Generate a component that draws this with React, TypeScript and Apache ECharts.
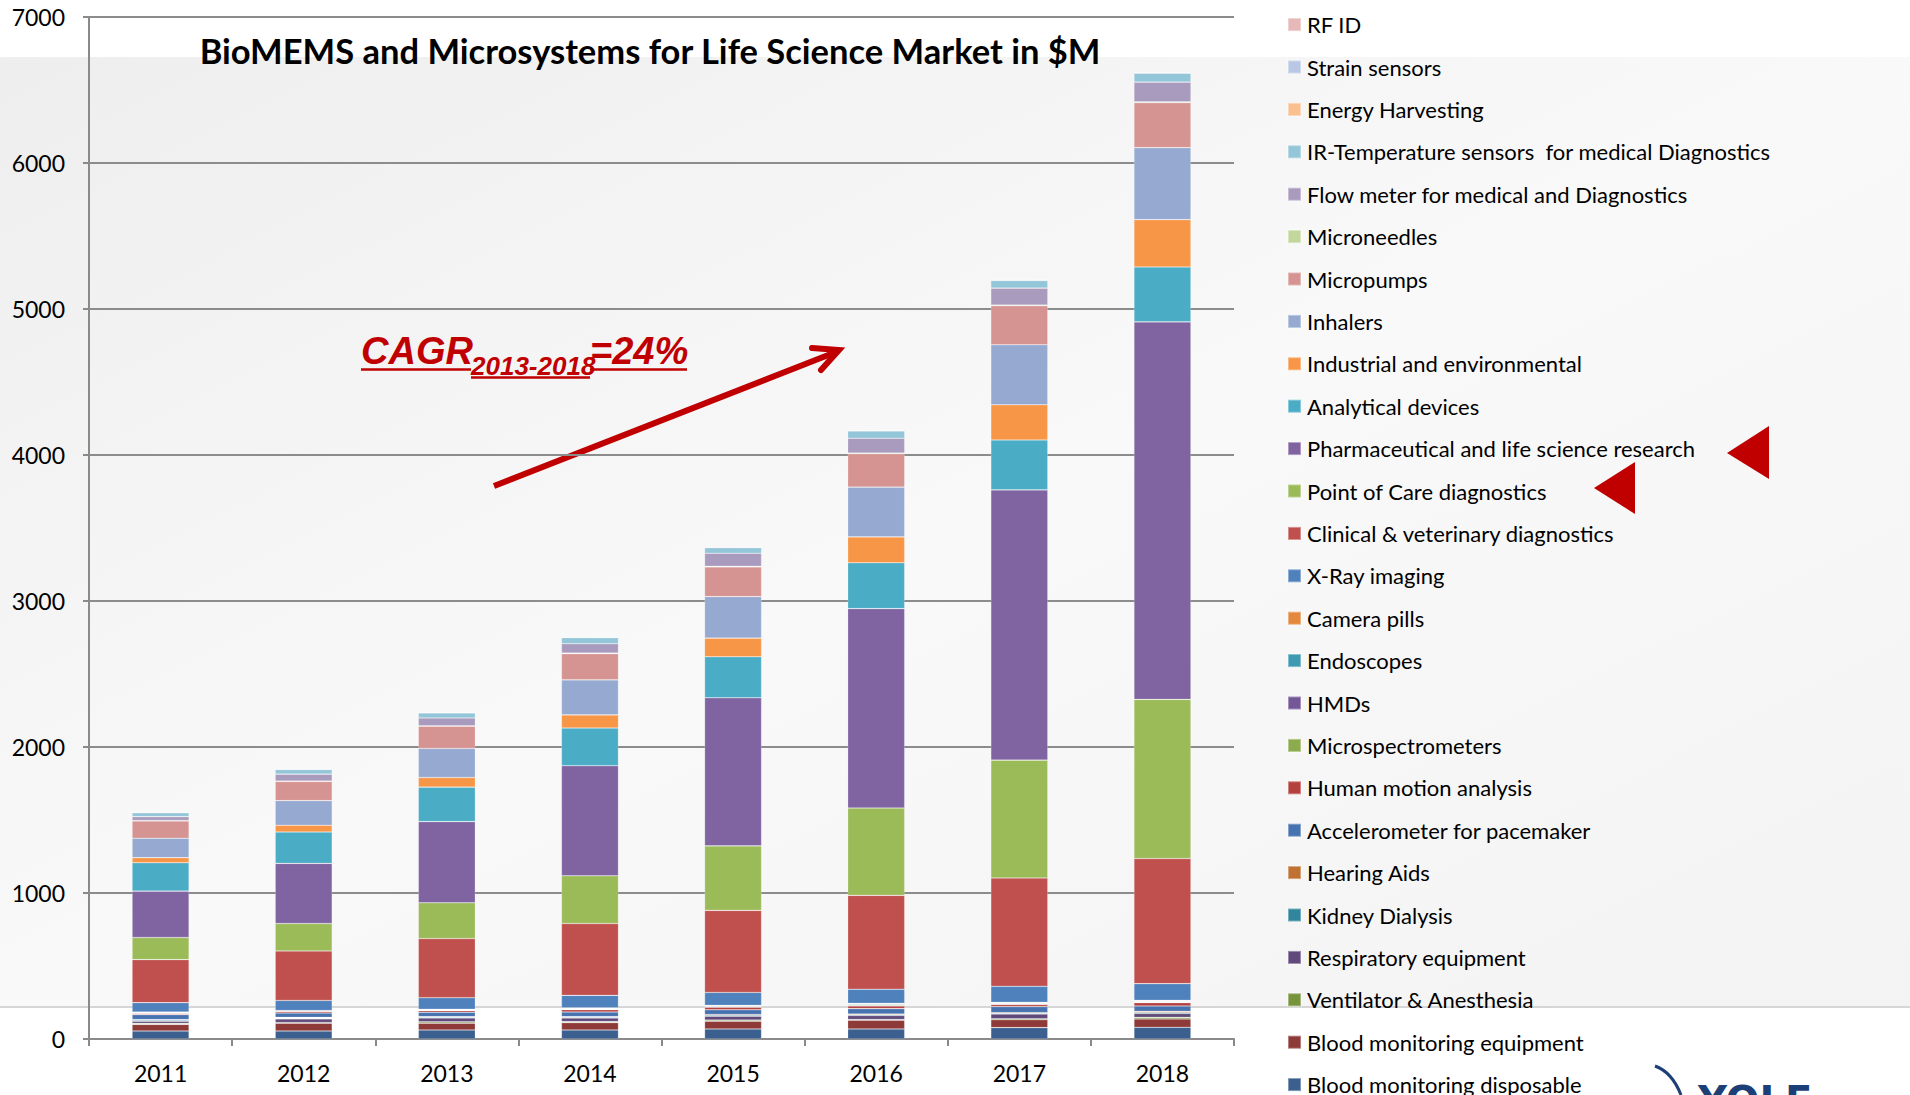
import React, { useEffect, useRef } from 'react';
import * as echarts from 'echarts';

const years = ['2011', '2012', '2013', '2014', '2015', '2016', '2017', '2018'];
const yTicks = [0, 1000, 2000, 3000, 4000, 5000, 6000, 7000];

// bottom of the stack first
const bloodDisposable = [55, 55, 62, 62, 69, 69, 78, 80];
const bloodEquipment = [45, 53, 46, 50, 53, 60, 54, 57];
const ventilator = [7, 5, 9, 7, 7, 5, 7, 11];
const respiratory = [15, 25, 27, 25, 27, 27, 32, 27];
const kidney = [6, 5, 5, 5, 7, 5, 5, 7];
const hearing = [5, 5, 4, 4, 5, 5, 5, 7];
const accelerometer = [34, 30, 30, 32, 32, 37, 41, 37];
const humanMotion = [8, 11, 11, 16, 18, 18, 14, 23];
const microspectrometers = [3, 2, 3, 3, 2, 5, 4, 4];
const hmds = [3, 2, 3, 3, 2, 4, 3, 4];
const endoscopes = [2, 1, 2, 3, 4, 5, 4, 4];
const cameraPills = [2, 1, 2, 3, 4, 4, 4, 4];
const xray = [64, 69, 79, 86, 89, 97, 110, 114];
const clinical = [295, 339, 405, 492, 562, 643, 742, 857];
const pointOfCare = [151, 188, 245, 327, 442, 598, 807, 1090];
const pharma = [318, 412, 556, 754, 1014, 1366, 1851, 2586];
const analytical = [194, 215, 236, 258, 281, 314, 342, 376];
const industrial = [35, 46, 66, 90, 128, 177, 241, 324];
const inhalers = [133, 169, 199, 240, 284, 341, 411, 493];
const micropumps = [119, 131, 152, 179, 204, 229, 267, 308];
const microneedles = [2, 3, 3, 4, 4, 5, 5, 6];
const flowMeter = [27, 47, 54, 64, 89, 101, 116, 135];
const irTemp = [27, 32, 35, 42, 38, 50, 52, 61];
const energyHarvesting = [1, 1, 2, 2, 2, 2, 2, 2];
const strainSensors = [1, 2, 2, 2, 2, 3, 3, 3];
const rfid = [1, 2, 2, 2, 2, 2, 2, 3];

const seriesDefs = [
  { name: 'Blood monitoring disposable', data: bloodDisposable, color: '#3B5F8E' },
  { name: 'Blood monitoring equipment', data: bloodEquipment, color: '#8E3A38' },
  { name: 'Ventilator & Anesthesia', data: ventilator, color: '#77933C' },
  { name: 'Respiratory equipment', data: respiratory, color: '#604A7B' },
  { name: 'Kidney Dialysis', data: kidney, color: '#31859C' },
  { name: 'Hearing Aids', data: hearing, color: '#C07232' },
  { name: 'Accelerometer for pacemaker', data: accelerometer, color: '#4672B0' },
  { name: 'Human motion analysis', data: humanMotion, color: '#B5413F' },
  { name: 'Microspectrometers', data: microspectrometers, color: '#8CAB4C' },
  { name: 'HMDs', data: hmds, color: '#735797' },
  { name: 'Endoscopes', data: endoscopes, color: '#3E9AB1' },
  { name: 'Camera pills', data: cameraPills, color: '#E3883C' },
  { name: 'X-Ray imaging', data: xray, color: '#4F81BD' },
  { name: 'Clinical & veterinary diagnostics', data: clinical, color: '#C0504D' },
  { name: 'Point of Care diagnostics', data: pointOfCare, color: '#9BBB59' },
  { name: 'Pharmaceutical and life science research', data: pharma, color: '#8064A2' },
  { name: 'Analytical devices', data: analytical, color: '#4BACC6' },
  { name: 'Industrial and environmental', data: industrial, color: '#F79646' },
  { name: 'Inhalers', data: inhalers, color: '#95A9D1' },
  { name: 'Micropumps', data: micropumps, color: '#D59391' },
  { name: 'Microneedles', data: microneedles, color: '#C3D69B' },
  { name: 'Flow meter for medical and Diagnostics', data: flowMeter, color: '#A99BBE' },
  { name: 'IR-Temperature sensors  for medical Diagnostics', data: irTemp, color: '#93C6D8' },
  { name: 'Energy Harvesting', data: energyHarvesting, color: '#FAC090' },
  { name: 'Strain sensors', data: strainSensors, color: '#B9C7E4' },
  { name: 'RF ID', data: rfid, color: '#E6B9B8' },
];

const FONT = 'Lato, "Open Sans", sans-serif';
const RED = '#C00000';

export default function App() {
  const ref = useRef<HTMLDivElement>(null);
  useEffect(() => {
    const chart = echarts.init(ref.current as HTMLDivElement, null, { renderer: 'svg' });
    chart.setOption({
      animation: false,
      backgroundColor: '#ffffff',
      grid: { left: 89, top: 17, width: 1145, height: 1022, containLabel: false },
      xAxis: {
        type: 'category',
        data: years,
        axisLine: { lineStyle: { color: '#8a8a8a', width: 2 } },
        axisTick: { show: true, length: 7, lineStyle: { color: '#8a8a8a', width: 2 } },
        axisLabel: { fontFamily: FONT, fontSize: 23, color: '#000', margin: 22 },
      },
      yAxis: {
        type: 'value',
        min: yTicks[0],
        max: yTicks[yTicks.length - 1],
        interval: 1000,
        axisLine: { show: true, lineStyle: { color: '#8a8a8a', width: 2 } },
        axisTick: { show: true, length: 6, lineStyle: { color: '#8a8a8a', width: 2 } },
        axisLabel: {
          fontFamily: FONT,
          fontSize: 23,
          color: '#000',
          margin: 24,
          formatter: (v: number) => String(v),
        },
        splitLine: { lineStyle: { color: '#8c8c8c', width: 2 } },
      },
      legend: {
        orient: 'vertical',
        left: 1287,
        top: 13.6,
        height: 1400,
        padding: 0,
        itemWidth: 13,
        itemHeight: 13,
        itemGap: 20.4,
        icon: 'rect',
        selectedMode: false,
        data: seriesDefs.map((s) => s.name).reverse(),
        textStyle: { fontFamily: FONT, fontSize: 22, lineHeight: 22, color: '#000', padding: [0, 0, 0, 1] },
      },
      series: seriesDefs.map((s) => ({
        name: s.name,
        type: 'bar',
        stack: 'total',
        barWidth: 57,
        data: s.data,
        itemStyle: { color: s.color, borderColor: 'rgba(255,255,255,0.35)', borderWidth: 0.6 },
        emphasis: { disabled: true },
      })),
      graphic: [
        {
          type: 'rect',
          z: -100,
          shape: { x: 0, y: 57, width: 1910, height: 950 },
          style: {
            fill: new echarts.graphic.LinearGradient(0, 0, 1, 1, [
              { offset: 0, color: '#eeeeee' },
              { offset: 0.5, color: '#f9f9f9' },
              { offset: 1, color: '#f3f3f3' },
            ]),
          },
        },
        {
          type: 'line',
          z: -99,
          shape: { x1: 0, y1: 1007, x2: 1910, y2: 1007 },
          style: { stroke: '#d6d6d6', lineWidth: 2 },
        },
        {
          type: 'text',
          x: 650,
          y: 50,
          style: {
            text: 'BioMEMS and Microsystems for Life Science Market in $M',
            font: 'bold 34.5px Lato, sans-serif',
            fill: '#000',
            textAlign: 'center',
            textVerticalAlign: 'middle',
          },
        },
        {
          type: 'text',
          x: 361,
          y: 351,
          style: { text: 'CAGR', font: 'italic bold 38px "Liberation Sans", Arial, sans-serif', fill: RED, textAlign: 'left', textVerticalAlign: 'middle' },
        },
        {
          type: 'text',
          x: 471,
          y: 366,
          style: { text: '2013-2018', font: 'italic bold 26px "Liberation Sans", Arial, sans-serif', fill: RED, textAlign: 'left', textVerticalAlign: 'middle' },
        },
        {
          type: 'text',
          x: 590,
          y: 351,
          style: { text: '=24%', font: 'italic bold 38px "Liberation Sans", Arial, sans-serif', fill: RED, textAlign: 'left', textVerticalAlign: 'middle' },
        },
        { type: 'line', shape: { x1: 361, y1: 369.5, x2: 471, y2: 369.5 }, style: { stroke: RED, lineWidth: 2.5 } },
        { type: 'line', shape: { x1: 471, y1: 377.5, x2: 590, y2: 377.5 }, style: { stroke: RED, lineWidth: 2.5 } },
        { type: 'line', shape: { x1: 590, y1: 369.5, x2: 687, y2: 369.5 }, style: { stroke: RED, lineWidth: 2.5 } },
        { type: 'line', shape: { x1: 494, y1: 486, x2: 836, y2: 352 }, style: { stroke: RED, lineWidth: 6 } },
        {
          type: 'polyline',
          shape: { points: [[812, 348], [839, 350], [821, 370]] },
          style: { stroke: RED, lineWidth: 6, lineJoin: 'miter', lineCap: 'round', fill: 'none' },
        },
        { type: 'polygon', shape: { points: [[1727, 453], [1769, 426], [1769, 479]] }, style: { fill: RED } },
        { type: 'polygon', shape: { points: [[1594, 488], [1635, 462], [1635, 514]] }, style: { fill: RED } },
        {
          type: 'bezierCurve',
          shape: { x1: 1655, y1: 1066, cpx1: 1672, cpy1: 1072, x2: 1681, y2: 1095 },
          style: { stroke: '#1D3F77', lineWidth: 3, fill: 'none' },
        },
        {
          type: 'text',
          x: 1698,
          y: 1081,
          style: { text: 'YOLE', font: 'bold 40px "DejaVu Sans", sans-serif', fill: '#1D3F77', textAlign: 'left', textVerticalAlign: 'top' },
        },
      ],
    });
    return () => chart.dispose();
  }, []);
  return <div ref={ref} style={{ position: 'fixed', left: 0, top: 0, width: 1910, height: 1095 }} />;
}
